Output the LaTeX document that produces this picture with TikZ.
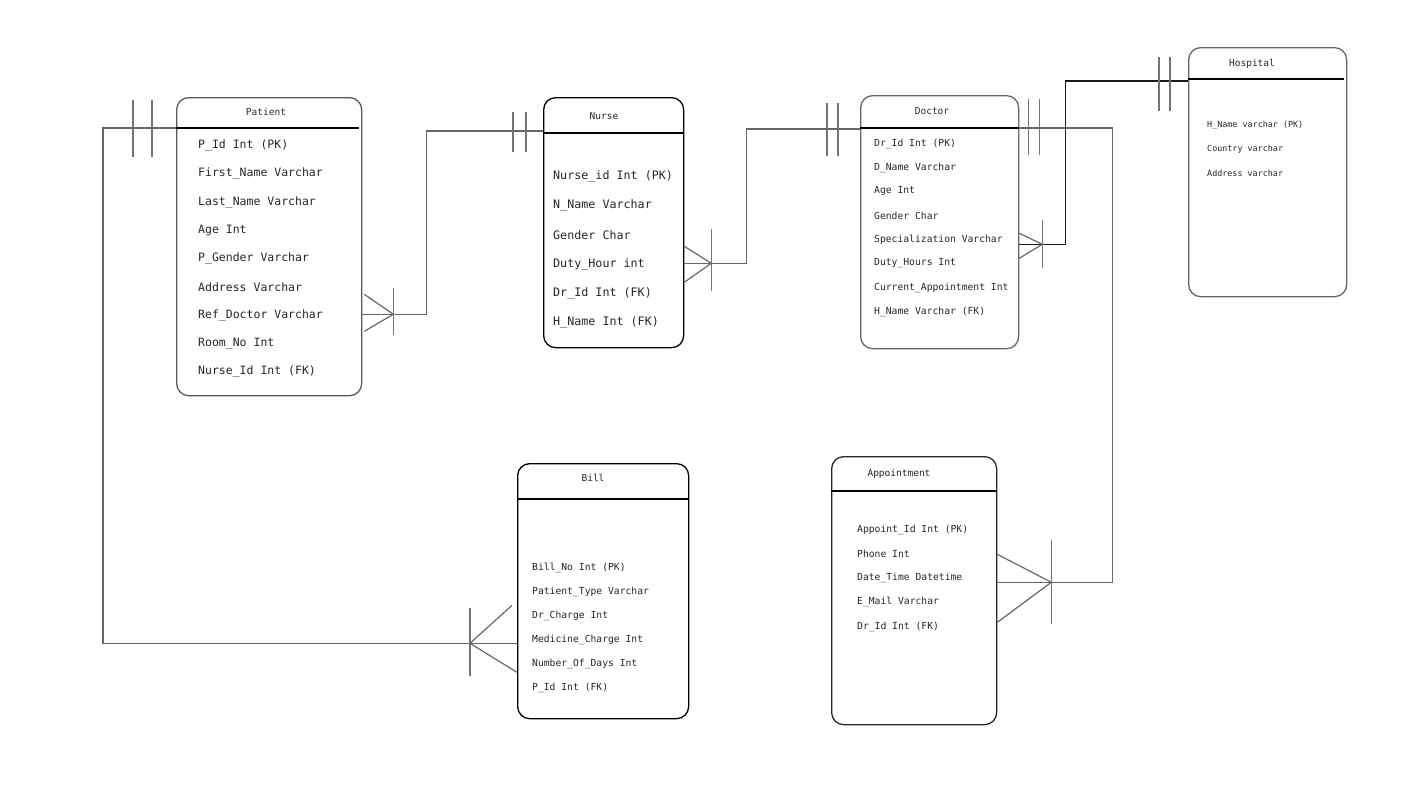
\documentclass[tikz,border=0pt]{standalone}
\usepackage{fontspec}
\setmonofont{DejaVu Sans Mono}
\begin{document}
\begin{tikzpicture}[x=1pt,y=-1pt,
  entity/.style={draw,rounded corners=12pt,line width=1.3pt,anchor=north west,inner sep=0pt},
  title/.style={inner sep=0pt,text=black!85,font=\ttfamily\fontsize{9.5}{10}\selectfont},
  field/.style={anchor=west,inner sep=0pt,text=black!85,font=\ttfamily\fontsize{#1}{#1}\selectfont},
  head/.style={line width=1.7pt},
  link/.style={draw=black!60,line width=1.2pt},
  bar/.style={draw=black!55,line width=1.2pt}]
\useasboundingbox (0,0) rectangle (1414,803);
% entities
\node[entity,draw=black!65,minimum width=185pt,minimum height=298pt] (patient) at (176,97) {};
\node[title] (patient-t) at (266,112) {Patient};
\draw[head] ([yshift=-31pt]patient.north west) -- ([xshift=-3pt,yshift=-31pt]patient.north east);
\foreach \f [count=\i] in {P\_Id Int (PK),First\_Name Varchar,Last\_Name Varchar,Age Int,P\_Gender Varchar,Address Varchar,Ref\_Doctor Varchar,Room\_No Int,Nurse\_Id Int (FK)}
  \node[field=11.5] (p\i) at (198,{145.5+(\i-1)*28.25}) {\f};
\node[entity,minimum width=140pt,minimum height=250pt] (nurse) at (543,97) {};
\node[title] (nurse-t) at (604,116) {Nurse};
\draw[head] ([yshift=-36pt]nurse.north west) -- ([yshift=-36pt]nurse.north east);
\foreach \f [count=\i] in {Nurse\_id Int (PK),N\_Name Varchar,Gender Char,Duty\_Hour int,Dr\_Id Int (FK),H\_Name Int (FK)}
  \node[field=11.7] (n\i) at (553,{176.5+(\i-1)*29.2}) {\f};
\node[entity,draw=black!60,minimum width=158pt,minimum height=253pt] (doctor) at (860,95) {};
\node[title] (doctor-t) at (932,111) {Doctor};
\draw[head] ([yshift=-33pt]doctor.north west) -- ([xshift=2pt,yshift=-33pt]doctor.north east);
\foreach \f [count=\i] in {Dr\_Id Int (PK),D\_Name Varchar,Age Int,Gender Char,Specialization Varchar,Duty\_Hours Int,Current\_Appointment Int,H\_Name Varchar (FK)}
  \node[field=9.7] (d\i) at (874,{143.5+(\i-1)*24}) {\f};
\node[entity,draw=black!60,minimum width=158pt,minimum height=249pt] (hospital) at (1188,47) {};
\node[title] (hospital-t) at (1252,64) {Hospital};
\draw[head] ([yshift=-32pt]hospital.north west) -- ([xshift=-3pt,yshift=-32pt]hospital.north east);
\foreach \f [count=\i] in {H\_Name varchar (PK),Country varchar,Address varchar}
  \node[field=8.4] (h\i) at (1207,{125+(\i-1)*24}) {\f};
\node[entity,minimum width=171pt,minimum height=255pt] (bill) at (517,463) {};
\node[title] (bill-t) at (593,478) {Bill};
\draw[head] ([yshift=-36pt]bill.north west) -- ([yshift=-36pt]bill.north east);
\foreach \f [count=\i] in {Bill\_No Int (PK),Patient\_Type Varchar,Dr\_Charge Int,Medicine\_Charge Int,Number\_Of\_Days Int,P\_Id Int (FK)}
  \node[field=9.7] (b\i) at (532,{567.5+(\i-1)*24}) {\f};
\node[entity,draw=black!85,minimum width=165pt,minimum height=268pt] (appointment) at (831,456) {};
\node[title] (appointment-t) at (899,474) {Appointment};
\draw[head] ([yshift=-35pt]appointment.north west) -- ([yshift=-35pt]appointment.north east);
\foreach \f [count=\i] in {Appoint\_Id Int (PK),Phone Int,Date\_Time Datetime,E\_Mail Varchar,Dr\_Id Int (FK)}
  \node[field=9.7] (a\i) at (857,{529.5+(\i-1)*24.25}) {\f};
% patient - bill
\coordinate (pb-a) at ([yshift=-31pt]patient.north west);
\coordinate (pb-b) at ([yshift=76pt]bill.south west);
\draw[link] (pb-a) -- ++(-73,0) |- (pb-b);
\draw[bar] ([xshift=-43pt,yshift=28pt]pb-a) -- ([xshift=-43pt,yshift=-29pt]pb-a);
\draw[bar] ([xshift=-24pt,yshift=28pt]pb-a) -- ([xshift=-24pt,yshift=-29pt]pb-a);
\draw[link] ([xshift=-5pt,yshift=38pt]pb-b) -- ([xshift=-47pt]pb-b) -- ([yshift=-29pt]pb-b);
\draw[bar] ([xshift=-47pt,yshift=35pt]pb-b) -- ([xshift=-47pt,yshift=-33pt]pb-b);
% patient - nurse
\coordinate (pn-a) at ([yshift=82pt]patient.south east);
\coordinate (pn-b) at ([yshift=-34pt]nurse.north west);
\draw[link] (pn-a) -- ++(64,0) |- (pn-b);
\draw[link] ([xshift=2pt,yshift=20pt]pn-a) -- ([xshift=31pt]pn-a) -- ([xshift=2pt,yshift=-17pt]pn-a);
\draw[bar] ([xshift=31pt,yshift=26pt]pn-a) -- ([xshift=31pt,yshift=-21pt]pn-a);
\draw[bar] ([xshift=-30pt,yshift=19pt]pn-b) -- ([xshift=-30pt,yshift=-21pt]pn-b);
\draw[bar] ([xshift=-17pt,yshift=19pt]pn-b) -- ([xshift=-17pt,yshift=-21pt]pn-b);
% nurse - doctor
\coordinate (nd-a) at ([yshift=85pt]nurse.south east);
\coordinate (nd-b) at ([yshift=-34pt]doctor.north west);
\draw[link] (nd-a) -- ++(62,0) |- (nd-b);
\draw[link] ([yshift=17pt]nd-a) -- ([xshift=27pt]nd-a) -- ([yshift=-19pt]nd-a);
\draw[bar] ([xshift=27pt,yshift=34pt]nd-a) -- ([xshift=27pt,yshift=-28pt]nd-a);
\draw[bar] ([xshift=-33pt,yshift=26pt]nd-b) -- ([xshift=-33pt,yshift=-27pt]nd-b);
\draw[bar] ([xshift=-22pt,yshift=26pt]nd-b) -- ([xshift=-22pt,yshift=-27pt]nd-b);
% doctor - appointment
\coordinate (da-a) at ([yshift=-33pt]doctor.north east);
\coordinate (da-b) at ([yshift=143pt]appointment.south east);
\draw[link] (da-a) -- ++(93,0) |- (da-b);
\draw[bar] ([xshift=9pt,yshift=29pt]da-a) -- ([xshift=9pt,yshift=-27pt]da-a);
\draw[bar] ([xshift=20pt,yshift=29pt]da-a) -- ([xshift=20pt,yshift=-27pt]da-a);
\draw[link] ([yshift=28pt]da-b) -- ([xshift=54pt]da-b) -- ([yshift=-40pt]da-b);
\draw[bar] ([xshift=54pt,yshift=42pt]da-b) -- ([xshift=54pt,yshift=-42pt]da-b);
% doctor - hospital
\coordinate (dh-a) at ([yshift=105pt]doctor.south east);
\coordinate (dh-b) at ([yshift=-34pt]hospital.north west);
\draw[link,draw=black!90] (dh-a) -- ++(46,0) |- (dh-b);
\draw[link] ([yshift=11pt]dh-a) -- ([xshift=23pt]dh-a) -- ([yshift=-14pt]dh-a);
\draw[bar] ([xshift=23pt,yshift=24pt]dh-a) -- ([xshift=23pt,yshift=-24pt]dh-a);
\draw[bar] ([xshift=-29pt,yshift=24pt]dh-b) -- ([xshift=-29pt,yshift=-30pt]dh-b);
\draw[bar] ([xshift=-18pt,yshift=24pt]dh-b) -- ([xshift=-18pt,yshift=-30pt]dh-b);
\end{tikzpicture}
\end{document}
